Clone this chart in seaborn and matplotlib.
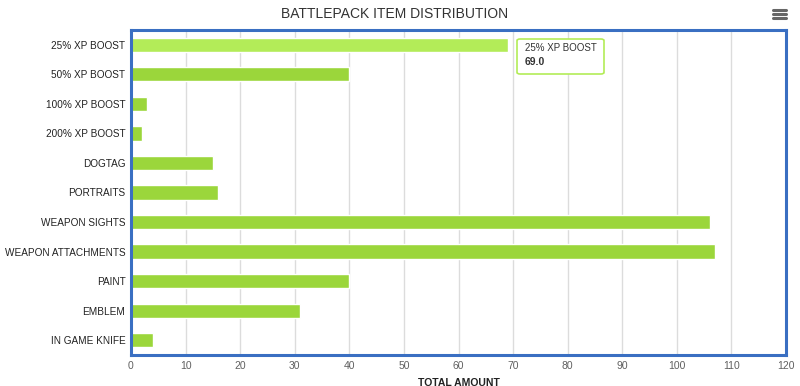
import pandas as pd
import matplotlib.pyplot as plt
import seaborn as sns
from matplotlib.patches import FancyBboxPatch

# Data
items = ["25% XP BOOST", "50% XP BOOST", "100% XP BOOST", "200% XP BOOST",
         "DOGTAG", "PORTRAITS", "WEAPON SIGHTS", "WEAPON ATTACHMENTS",
         "PAINT", "EMBLEM", "IN GAME KNIFE"]
amounts = [69, 40, 3, 2, 15, 16, 106, 107, 40, 31, 4]
x_ticks = list(range(0, 121, 10))

hovered = "25% XP BOOST"

df = pd.DataFrame({"item": items, "amount": amounts})
df["state"] = ["hover" if i == hovered else "normal" for i in items]

sns.set_style("white")
plt.rcParams["font.family"] = ["Liberation Sans", "DejaVu Sans"]

fig = plt.figure(figsize=(8, 3.86), dpi=100)
ax = fig.add_axes([131 / 800, 1 - 355 / 386, 655 / 800, 325 / 386])

sns.barplot(data=df, x="amount", y="item", hue="state", orient="h",
            palette={"hover": "#b3ec58", "normal": "#9bd63b"},
            width=0.48, legend=False, ax=ax, saturation=1)

ax.set_xlim(0, 120)
ax.set_xticks(x_ticks)
ax.set_xticklabels([str(t) for t in x_ticks], color="#606060", fontsize=7.5)
ax.tick_params(axis="y", labelsize=7.2, labelcolor="#222222", length=0, pad=4)
ax.tick_params(axis="x", length=0, pad=4)
ax.grid(axis="x", color="#dcdcdc", linewidth=1)
ax.set_axisbelow(True)
ax.set_ylabel("")
ax.set_xlabel("TOTAL AMOUNT", fontsize=7.5, fontweight="bold", color="#222222", labelpad=5)

for s in ax.spines.values():
    s.set_visible(True)
    s.set_color("#3a6fc2")
    s.set_linewidth(2.2)

fig.text(395 / 800, 1 - 14 / 386, "BATTLEPACK ITEM DISTRIBUTION", ha="center", va="center",
         fontsize=10, color="#333333")

# hamburger menu icon
for dy in (-4, 0, 4):
    fig.add_artist(plt.Line2D([773 / 800, 786 / 800], [1 - (14 + dy) / 386] * 2,
                              color="#666666", linewidth=2.2))

# tooltip
box = FancyBboxPatch((517 / 800, 1 - 74 / 386), 87 / 800, 35 / 386,
                     boxstyle="round,pad=0,rounding_size=0.004", transform=fig.transFigure,
                     facecolor="white", edgecolor="#b3ec58", linewidth=1.2, zorder=5)
fig.add_artist(box)
fig.text(525 / 800, 1 - 48 / 386, "25% XP BOOST", fontsize=7, color="#333333",
         va="center", zorder=6)
fig.text(525 / 800, 1 - 62 / 386, f"{amounts[0]:.1f}", fontsize=7.5, fontweight="bold",
         color="#333333", va="center", zorder=6)

fig.savefig("out.png", dpi=100)
